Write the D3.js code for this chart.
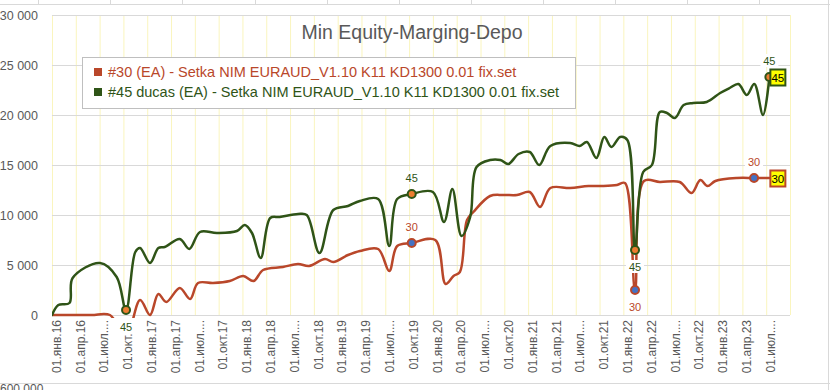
<!DOCTYPE html>
<html>
<head>
<meta charset="utf-8">
<script src="https://cdn.jsdelivr.net/npm/d3@7"></script>
<style>
  body { margin: 0; background: #fff; }
  svg { display: block; font-family: "Liberation Sans", Arial, sans-serif; }
</style>
</head>
<body>
<div id="chart"></div>
<script>
const w = 830;
const h = 390;
const plotL = 52, plotR = 790, plotT = 15, plotB = 315;
const red = '#B9472A';
const green = '#2F5417';

// x is months since 01.01.2016
const quarterLabels = [
  '01.янв.16', '01.апр.16', '01.июл....', '01.окт.16',
  '01.янв.17', '01.апр.17', '01.июл....', '01.окт.17',
  '01.янв.18', '01.апр.18', '01.июл....', '01.окт.18',
  '01.янв.19', '01.апр.19', '01.июл....', '01.окт.19',
  '01.янв.20', '01.апр.20', '01.июл....', '01.окт.20',
  '01.янв.21', '01.апр.21', '01.июл....', '01.окт.21',
  '01.янв.22', '01.апр.22', '01.июл....', '01.окт.22',
  '01.янв.23', '01.апр.23', '01.июл....'
];

const names = [
  '#30 (EA) - Setka NIM EURAUD_V1.10 K11 KD1300 0.01 fix.set',
  '#45 ducas (EA) - Setka NIM EURAUD_V1.10 K11 KD1300 0.01 fix.set'
];

const months30 = [0, 2.5, 5, 7.3, 9.3, 11.1, 12.35, 13.4, 14.4, 16.1, 17.4, 18.4, 20.3, 22.4, 24.1, 25.4, 26.6,
  29.1, 31.0, 32.4, 34.4, 35.45, 37.3, 38.8, 41.1, 42.5, 43.5, 45.33, 48.3, 49.6, 50.6, 51.4, 52.3, 53.1,
  55.2, 56.9, 58.6, 60.2, 61.5, 62.8, 65.3, 67.6, 69.5, 71.2, 72.2, 73.47, 74.6, 76.6, 79.1, 80.6, 81.7,
  82.6, 83.6, 86.3, 88.47, 90.4];
const values30 = [0, 0, 0, 0, -2200, 1500, 0, 2100, 1300, 2700, 1600, 3200, 3200, 3400, 3900, 3400, 4500,
  4800, 5100, 4900, 5600, 5300, 6000, 6400, 6600, 4400, 6900, 7200, 7500, 3100, 3900, 4300, 9500, 10300,
  11900, 12000, 12000, 12300, 10800, 12700, 12700, 12900, 12900, 13000, 13200, 2500, 13400, 13300, 13300, 12200, 13500,
  12900, 13400, 13700, 13700, 13700];

const months45 = [0, 0.8, 2.2, 2.6, 6.05, 8.15, 9.33, 10.5, 11.1, 12.35, 13.4, 14.2, 16.1, 17.3, 18.65,
  20.8, 23.3, 24.3, 25.2, 26.3, 27.5, 28.7, 31.0, 32.1, 33.7, 35.45, 37.3, 38.8, 41.1, 42.5, 43.5, 45.33,
  48.0, 49.4, 50.45, 51.6, 52.7, 53.5, 55.2, 56.5, 57.5, 58.8, 60.2, 61.4, 62.8, 65.3, 66.5, 67.4, 68.6,
  69.6, 70.5, 71.6, 72.5, 73.47, 74.5, 75.6, 76.6, 77.5, 78.5, 79.6, 80.8, 82.5, 84.2, 85.4, 86.5, 87.55,
  88.5, 89.6, 90.4];
const values45 = [0, 1000, 1200, 3700, 5200, 3800, 500, 6300, 6700, 5200, 6700, 6800, 7600, 6600, 8300,
  8200, 8400, 9000, 8200, 5700, 9700, 9800, 10100, 10000, 6200, 10500, 10900, 11400, 11600, 6900, 11600, 12100,
  12300, 9300, 12600, 7900, 9800, 14800, 15500, 15500, 15100, 16100, 16300, 15000, 16900, 17200, 16900, 17300, 15700,
  17800, 16800, 17800, 17500, 6500, 14300, 15000, 20300, 20200, 19700, 21000, 21200, 21300, 22200, 22700, 23100, 22000,
  23100, 20000, 23800];

// points that carry a marker + label: [series, month, label side]
const marked = [
  [1, 9.33, 'below'], [1, 45.33, 'above'], [1, 73.47, 'below'], [1, 90.4, 'above'],
  [0, 45.33, 'above'], [0, 73.47, 'below'], [0, 88.47, 'above']
];

const series = [
  {id: '30', color: red, fill: '#4472C4', months: months30, values: values30},
  {id: '45', color: green, fill: '#ED7D31', months: months45, values: values45}
];

const svg = d3.select('#chart').append('svg')
  .attr('width', w).attr('height', h);

// bits of the neighbouring sheet charts
svg.append('line').attr('x1', 0).attr('x2', w).attr('y1', 4.5).attr('y2', 4.5)
  .attr('stroke', '#D9D9D9');
[38, 110, 182, 255, 327, 399, 471, 543, 615, 687, 759].forEach(xx => {
  svg.append('line').attr('x1', xx + 0.5).attr('x2', xx + 0.5).attr('y1', 0).attr('y2', 4.5)
    .attr('stroke', '#D9D9D9');
});
svg.append('line').attr('x1', 828.5).attr('x2', 828.5).attr('y1', 0).attr('y2', h)
  .attr('stroke', '#D9D9D9');
svg.append('line').attr('x1', 0).attr('x2', w).attr('y1', 383.5).attr('y2', 383.5)
  .attr('stroke', '#D9D9D9');
svg.append('text').attr('x', 0).attr('y', 393).attr('fill', '#595959')
  .style('font-size', '12px').text('600 000');

const x = d3.scaleLinear().domain([0, 93]).range([plotL, plotR]);
const y = d3.scaleLinear().domain([0, 30000]).range([plotB, plotT]);

const fmt = d3.formatLocale({decimal: ',', thousands: '\u00a0', grouping: [3], currency: ['', '']}).format(',');

// yellow vertical gridlines every quarter
svg.append('g')
  .attr('transform', 'translate(0,' + plotB + ')')
  .call(d3.axisBottom(x).tickValues(d3.range(0, 94, 3)).tickSize(-(plotB - plotT)).tickFormat(''))
  .call(g => g.select('.domain').remove())
  .call(g => g.selectAll('line').attr('stroke', '#FAF5BE'));

// y axis with grey gridlines
svg.append('g')
  .attr('transform', 'translate(' + plotL + ',0)')
  .call(d3.axisLeft(y).ticks(6).tickSize(-(plotR - plotL)).tickPadding(14).tickFormat(fmt))
  .call(g => g.select('.domain').remove())
  .call(g => g.selectAll('line').attr('stroke', '#D9D9D9'))
  .call(g => g.selectAll('text').attr('fill', '#595959').style('font-size', '12.5px'));

// x labels
svg.append('g')
  .attr('transform', 'translate(0,' + plotB + ')')
  .call(d3.axisBottom(x).tickValues(d3.range(0, 91, 3)).tickSize(0).tickFormat((d, i) => quarterLabels[i]))
  .call(g => g.select('.domain').remove())
  .call(g => g.selectAll('text')
    .attr('transform', 'rotate(-90)')
    .attr('text-anchor', 'end')
    .attr('x', -5).attr('y', 4).attr('dy', '0.35em')
    .attr('fill', '#595959').style('font-size', '12px'));

// title
svg.append('text').attr('x', 412).attr('y', 39).attr('text-anchor', 'middle')
  .attr('fill', '#595959').style('font-size', '19.5px').text('Min Equity-Marging-Depo');

// lines
svg.append('clipPath').attr('id', 'plot')
  .append('rect').attr('x', plotL).attr('y', 0).attr('width', plotR - plotL).attr('height', plotB + 3);

const line = d3.line().curve(d3.curveCatmullRom.alpha(0.5))
  .x(d => x(d[0])).y(d => y(d[1]));

series.forEach(s => {
  svg.append('path')
    .datum(s.months.map((m, i) => [m, s.values[i]]))
    .attr('clip-path', 'url(#plot)')
    .attr('d', line)
    .attr('fill', 'none')
    .attr('stroke', s.color)
    .attr('stroke-width', 2.5)
    .attr('stroke-linejoin', 'round')
    .attr('stroke-linecap', 'round');
});

// markers and labels
marked.forEach(([si, m, side]) => {
  const s = series[si];
  const v = s.values[s.months.indexOf(m)];
  const px = x(m), py = y(v);
  const ly = side === 'above' ? py - 16 : py + 17;
  svg.append('rect').attr('x', px - 9).attr('y', ly - 7).attr('width', 18).attr('height', 13)
    .attr('fill', '#fff');
  svg.append('text').attr('x', px).attr('y', ly).attr('dy', '0.35em').attr('text-anchor', 'middle')
    .attr('fill', s.color).style('font-size', '11px').text(s.id);
  svg.append('circle').attr('cx', px).attr('cy', py).attr('r', 4)
    .attr('fill', s.fill).attr('stroke', s.color).attr('stroke-width', 2);
});

// boxed labels at the last point of each series
series.forEach(s => {
  const n = s.months.length - 1;
  const px = x(s.months[n]), py = y(s.values[n]);
  svg.append('rect').attr('x', px + 1).attr('y', py - 7.5).attr('width', 15).attr('height', 16)
    .attr('fill', '#FFFF00').attr('stroke', s.color).attr('stroke-width', 2);
  svg.append('text').attr('x', px + 8.5).attr('y', py + 0.5).attr('dy', '0.35em').attr('text-anchor', 'middle')
    .attr('fill', '#000').style('font-size', '11.5px').text(s.id);
});

// legend
const legend = svg.append('g');
legend.append('rect').attr('x', 82.5).attr('y', 57.5).attr('width', 493).attr('height', 51)
  .attr('fill', '#fff').attr('stroke', '#BFBFBF');
series.forEach((s, i) => {
  legend.append('rect').attr('x', 94).attr('y', 68 + i * 20).attr('width', 8).attr('height', 8)
    .attr('fill', s.color);
  legend.append('text').attr('x', 108).attr('y', 72 + i * 20).attr('dy', '0.35em')
    .attr('fill', s.color).style('font-size', '14.5px').text(names[i]);
});
</script>
</body>
</html>
